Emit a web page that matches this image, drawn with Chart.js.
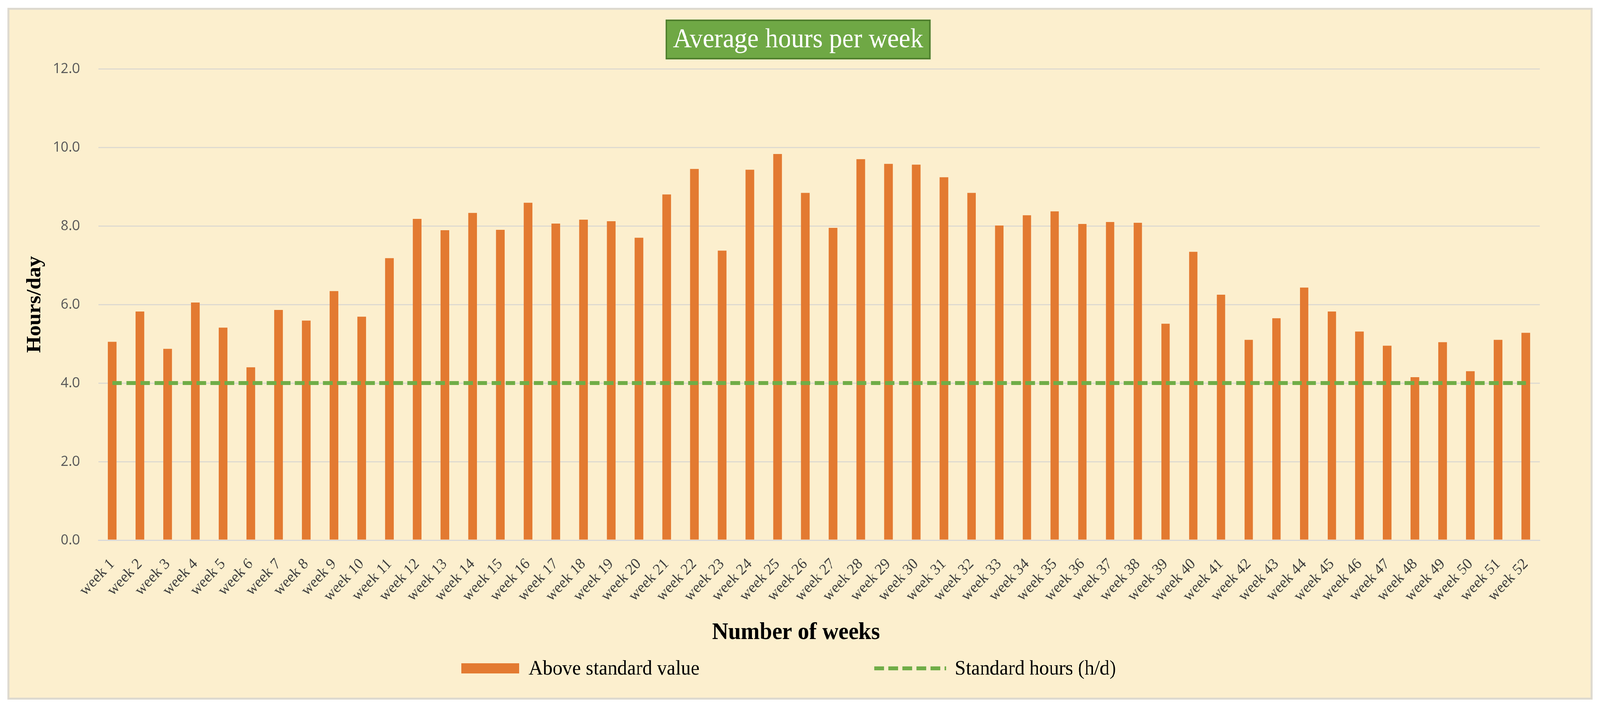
<!DOCTYPE html>
<html>
<head>
<meta charset="utf-8">
<title>Average hours per week</title>
<script src="https://cdn.jsdelivr.net/npm/chart.js@4.4.1/dist/chart.umd.min.js"></script>
<style>
    html, body { margin: 0; padding: 0; background: #ffffff; overflow: hidden; }
    #pagina {
        position: absolute; left: 0; top: 0;
        width: 4328px; height: 1814px;
        transform-origin: 0 0;
        background: #ffffff;
    }
    #marco {
        position: absolute; left: 20px; top: 20px;
        width: 4288px; height: 1770px;
        box-sizing: border-box;
        border: 5px solid #DDD9CF;
        background: #FCEFCE;
    }
    #caja { position: relative; width: 4278px; height: 1760px; }
</style>
</head>
<body>
<div id="pagina"><div id="marco"><div id="caja"><canvas id="grafico" width="4278" height="1760"></canvas></div></div></div>
<script>
// Datos
const semanas = [
    'week 1', 'week 2', 'week 3', 'week 4', 'week 5', 'week 6', 'week 7', 'week 8',
    'week 9', 'week 10', 'week 11', 'week 12', 'week 13', 'week 14', 'week 15', 'week 16',
    'week 17', 'week 18', 'week 19', 'week 20', 'week 21', 'week 22', 'week 23', 'week 24',
    'week 25', 'week 26', 'week 27', 'week 28', 'week 29', 'week 30', 'week 31', 'week 32',
    'week 33', 'week 34', 'week 35', 'week 36', 'week 37', 'week 38', 'week 39', 'week 40',
    'week 41', 'week 42', 'week 43', 'week 44', 'week 45', 'week 46', 'week 47', 'week 48',
    'week 49', 'week 50', 'week 51', 'week 52'
];

const horasSemana = [
    5.05, 5.82, 4.87, 6.05, 5.41, 4.40, 5.86, 5.59, 6.34, 5.69, 7.18, 8.18, 7.89,
    8.33, 7.90, 8.59, 8.06, 8.16, 8.12, 7.70, 8.80, 9.45, 7.37, 9.43, 9.83, 8.84,
    7.95, 9.70, 9.58, 9.56, 9.24, 8.84, 8.01, 8.27, 8.37, 8.05, 8.10, 8.08, 5.51,
    7.34, 6.25, 5.10, 5.65, 6.43, 5.82, 5.31, 4.95, 4.15, 5.04, 4.30, 5.10, 5.28
];

const horasEstandar = [
    4.0, 4.0, 4.0, 4.0, 4.0, 4.0, 4.0, 4.0, 4.0, 4.0, 4.0, 4.0, 4.0,
    4.0, 4.0, 4.0, 4.0, 4.0, 4.0, 4.0, 4.0, 4.0, 4.0, 4.0, 4.0, 4.0,
    4.0, 4.0, 4.0, 4.0, 4.0, 4.0, 4.0, 4.0, 4.0, 4.0, 4.0, 4.0, 4.0,
    4.0, 4.0, 4.0, 4.0, 4.0, 4.0, 4.0, 4.0, 4.0, 4.0, 4.0, 4.0, 4.0
];

const marcasY = [0.0, 2.0, 4.0, 6.0, 8.0, 10.0, 12.0];

const titulo = 'Average hours per week';
const tituloX = 'Number of weeks';

// Ajustar la pagina a la ventana
function ajustar() {
    const sx = window.innerWidth / 4328;
    const sy = window.innerHeight / 1814;
    document.getElementById('pagina').style.transform = 'scale(' + sx + ',' + sy + ')';
}

// Titulo en caja verde y titulo del eje x
const titulos = {
    id: 'titulos',
    afterDraw(chart) {
        const ctx = chart.ctx;
        ctx.save();

        // caja verde
        const cx = 2134, cy = 76;
        ctx.font = '70px "Liberation Serif"';
        const w = ctx.measureText(titulo).width + 36;
        const h = 98;
        ctx.fillStyle = '#6FA845';
        ctx.fillRect(cx - w / 2, cy - h / 2, w, h);
        ctx.strokeStyle = '#4F7F2E';
        ctx.lineWidth = 4;
        ctx.strokeRect(cx - w / 2, cy - h / 2, w, h);
        ctx.fillStyle = '#FFFFFF';
        ctx.textAlign = 'center';
        ctx.textBaseline = 'middle';
        ctx.fillText(titulo, cx, cy + 2);

        // eje x
        ctx.font = 'bold 61px "Liberation Serif"';
        ctx.fillStyle = '#000000';
        ctx.fillText(tituloX, 2128, 1594);
        ctx.restore();
    }
};

// Leyenda abajo
const leyenda = {
    id: 'leyenda',
    afterDraw(chart) {
        const ctx = chart.ctx;
        const ds = chart.data.datasets;
        const y = 1685;
        let x = 1223;
        ctx.save();
        ctx.font = '53px "Liberation Serif"';
        ctx.textBaseline = 'middle';

        // barra
        ctx.fillStyle = ds[0].backgroundColor;
        ctx.fillRect(x, y - 13, 156, 26);
        x += 156 + 26;
        ctx.fillStyle = '#000000';
        ctx.fillText(ds[0].label, x, y + 2);
        x += ctx.measureText(ds[0].label).width + 473;

        // linea
        ctx.strokeStyle = ds[1].borderColor;
        ctx.lineWidth = 10;
        ctx.setLineDash([26, 12]);
        ctx.beginPath();
        ctx.moveTo(x, y);
        ctx.lineTo(x + 194, y);
        ctx.stroke();
        ctx.setLineDash([]);
        x += 194 + 24;
        ctx.fillText(ds[1].label, x, y + 2);
        ctx.restore();
    }
};

window.onload = function () {

    ajustar();

    const ctx = document.getElementById('grafico');

    new Chart(ctx, {
        data: {
            labels: semanas,
            datasets: [
                {
                    type: 'bar',
                    label: 'Above standard value',
                    data: horasSemana,
                    backgroundColor: '#E37A31',
                    categoryPercentage: 1.0,
                    barPercentage: 0.31,
                    order: 1
                },
                {
                    type: 'line',
                    label: 'Standard hours (h/d)',
                    data: horasEstandar,
                    borderColor: '#70AD47',
                    borderWidth: 10,
                    borderDash: [26, 12],
                    pointRadius: 0,
                    fill: false,
                    order: 0
                }
            ]
        },
        options: {
            responsive: false,
            animation: false,
            layout: {
                padding: { top: 151, left: 20, right: 138, bottom: 198 }
            },
            plugins: {
                legend: { display: false },
                tooltip: { enabled: false },
                title: { display: false }
            },
            scales: {
                x: {
                    grid: { display: false, drawTicks: false },
                    border: { display: true, color: '#D9D9D9', width: 3 },
                    ticks: {
                        autoSkip: false,
                        minRotation: 45,
                        maxRotation: 45,
                        padding: 38,
                        color: '#404040',
                        font: { family: '"Liberation Serif"', size: 40 }
                    }
                },
                y: {
                    min: 0,
                    max: 12,
                    afterBuildTicks: axis => {
                        axis.ticks = marcasY.map(v => ({ value: v }));
                    },
                    grid: { color: '#DEDAD0', lineWidth: 3, drawTicks: false },
                    border: { display: false },
                    ticks: {
                        padding: 50,
                        color: '#595959',
                        font: { family: '"Open Sans"', size: 37 },
                        callback: v => Number(v).toFixed(1)
                    },
                    title: {
                        display: true,
                        text: 'Hours/day',
                        color: '#000000',
                        font: { family: '"Liberation Serif"', size: 55, weight: 'bold' },
                        padding: { top: 17, bottom: -35 }
                    }
                }
            }
        },
        plugins: [titulos, leyenda]
    });
};
</script>
</body>
</html>
